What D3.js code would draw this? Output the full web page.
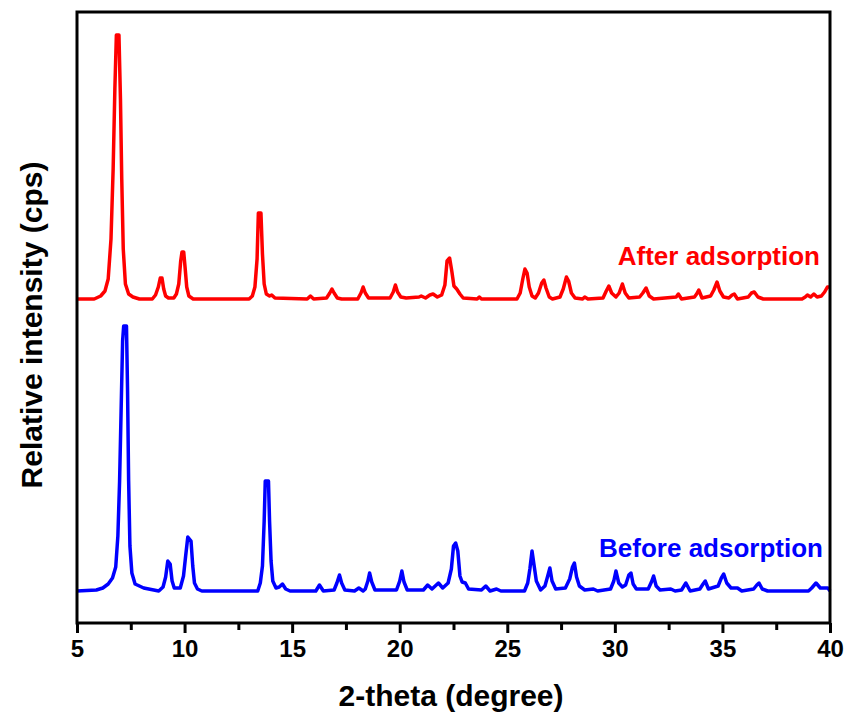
<!DOCTYPE html>
<html>
<head>
<meta charset="utf-8">
<script src="https://cdn.jsdelivr.net/npm/d3@7"></script>
<style>
  body { margin: 0; background: #fff; }
  svg { display: block; font-family: "Liberation Sans", Arial, sans-serif; }
</style>
</head>
<body>
<div id="xrd-chart"></div>
<script>
// XRD patterns: [2-theta (degree), intensity above the pattern's baseline]
const afterPattern = [
  [5.0,0],[5.8,0],[6.1,3],[6.3,8],[6.45,20],[6.58,60],[6.68,130],[6.76,210],[6.83,264],[6.95,264],[7.02,200],[7.08,120],[7.15,50],[7.25,15],[7.4,5],[7.6,2],[7.9,0],
  [8.5,0],[8.65,4],[8.78,12],[8.87,21],[8.95,21],[9.03,10],[9.12,3],[9.25,1],[9.5,1],[9.62,5],[9.73,15],[9.82,38],[9.88,47],[9.96,47],[10.03,30],[10.1,12],[10.2,3],[10.4,0],
  [13.0,0],[13.15,3],[13.27,12],[13.37,40],[13.43,86],[13.55,86],[13.62,45],[13.7,15],[13.8,5],[13.95,3],[14.05,4],[14.2,1],
  [15.7,0],[15.85,3],[16.0,0],[16.6,1],[16.75,6],[16.85,10],[16.95,6],[17.1,1],[17.3,0],[18.05,0],[18.2,6],[18.3,12],[18.4,6],[18.55,1],
  [19.55,1],[19.7,7],[19.8,14],[19.9,7],[20.05,2],[20.3,1],[20.9,2],[21.0,3],[21.2,1],[21.4,4],[21.55,5],[21.75,2],[21.95,4],
  [22.1,14],[22.2,38],[22.32,41],[22.42,28],[22.52,13],[22.65,10],[22.8,5],[22.95,1],[23.6,0],[23.7,2],[23.8,0],
  [25.45,0],[25.6,6],[25.72,20],[25.82,30],[25.92,26],[26.02,12],[26.15,3],[26.3,1],[26.45,6],[26.6,16],[26.7,19],[26.8,11],[26.95,2],[27.1,0],
  [27.45,2],[27.6,10],[27.75,22],[27.85,18],[27.98,6],[28.15,1],[28.5,0],[28.6,2],[28.75,0],
  [29.45,1],[29.6,8],[29.72,13],[29.85,6],[30.05,2],[30.2,6],[30.35,15],[30.48,6],[30.65,1],[31.15,2],[31.3,6],[31.45,11],[31.6,3],[31.8,0],
  [32.85,2],[32.95,5],[33.1,0],[33.7,2],[33.8,5],[33.9,9],[34.05,1],[34.45,3],[34.6,9],[34.75,17],[34.88,8],[35.05,2],[35.3,1],[35.45,4],[35.55,5],[35.7,0],
  [36.2,2],[36.35,6],[36.48,7],[36.65,2],[36.9,0],[38.7,0],[38.85,2],[38.95,4],[39.1,2],[39.25,5],[39.4,2],[39.6,3],[39.75,7],[39.88,12],[40.0,12]
];

const beforePattern = [
  [5.0,0],[5.9,1],[6.2,3],[6.45,7],[6.65,13],[6.8,24],[6.9,55],[6.98,110],[7.05,180],[7.12,250],[7.17,265],[7.3,265],[7.35,200],[7.4,110],[7.46,45],[7.55,18],[7.7,7],[8.1,3],
  [8.8,0],[9.0,4],[9.12,14],[9.22,30],[9.33,27],[9.42,10],[9.52,3],[9.8,3],[9.95,15],[10.05,35],[10.15,54],[10.3,50],[10.38,25],[10.46,8],[10.6,2],[10.8,0],
  [13.4,0],[13.52,8],[13.62,25],[13.7,70],[13.75,110],[13.9,110],[13.95,70],[14.02,30],[14.1,10],[14.25,3],[14.4,4],[14.55,7],[14.7,2],[14.9,0],
  [16.1,0],[16.27,6],[16.45,0],[16.95,1],[17.08,8],[17.2,16],[17.3,8],[17.45,1],[17.9,0],[18.1,3],[18.3,0],[18.4,2],[18.52,10],[18.6,18],[18.7,9],[18.85,1],
  [19.85,1],[20.0,10],[20.1,20],[20.2,9],[20.35,1],[21.1,1],[21.3,6],[21.5,2],[21.8,8],[22.0,3],
  [22.25,8],[22.4,22],[22.5,45],[22.6,48],[22.7,40],[22.8,15],[22.9,9],[23.05,8],[23.2,2],[23.8,1],[24.0,5],[24.2,0],[24.5,2],[24.7,0],
  [25.8,0],[25.95,8],[26.05,22],[26.15,40],[26.25,25],[26.35,10],[26.55,1],[26.75,5],[26.88,15],[26.98,23],[27.08,10],[27.25,2],
  [27.7,3],[27.9,12],[28.03,24],[28.12,28],[28.22,14],[28.35,5],[28.6,1],[29.0,2],[29.2,0],
  [29.8,2],[29.95,10],[30.05,20],[30.18,8],[30.35,4],[30.5,6],[30.65,16],[30.75,18],[30.85,7],[31.0,2],[31.55,2],[31.7,9],[31.8,15],[31.92,5],[32.1,1],
  [32.6,2],[32.8,0],[33.1,1],[33.3,8],[33.5,0],[33.95,2],[34.1,7],[34.2,10],[34.35,2],[34.8,5],[34.95,13],[35.06,17],[35.2,8],[35.4,3],[35.7,3],[35.9,0],
  [36.45,2],[36.6,6],[36.7,8],[36.85,2],[37.1,0],[39.0,0],[39.15,3],[39.35,8],[39.55,3],[39.9,3],[40.0,0]
];

// vertical offsets of the two stacked patterns
const afterOffset = 324;
const beforeOffset = 32;

const xMajorTicks = [5, 10, 15, 20, 25, 30, 35, 40];
const xMinorTicks = [7.5, 12.5, 17.5, 22.5, 27.5, 32.5, 37.5];

const seriesLabels = ["After adsorption", "Before adsorption"];

document.addEventListener('DOMContentLoaded', () => {
    const W = 850, H = 719;
    const plot = { left: 77, right: 830, top: 12, bottom: 623 };

    const svg = d3.select("#xrd-chart")
        .append("svg")
        .attr("width", W)
        .attr("height", H);

    const x = d3.scaleLinear().domain([5, 40]).range([plot.left, plot.right]);
    const y = d3.scaleLinear().domain([0, 611]).range([plot.bottom, plot.top]);

    const series = [
        { name: seriesLabels[0], color: "#ff0000", offset: afterOffset, values: afterPattern },
        { name: seriesLabels[1], color: "#0000ff", offset: beforeOffset, values: beforePattern }
    ];

    // line generator, each pattern shifted up by its offset
    const line = offset => d3.line()
        .x(d => x(d[0]))
        .y(d => y(d[1] + offset));

    svg.selectAll(".pattern")
        .data(series)
        .enter()
        .append("path")
        .attr("class", "pattern")
        .attr("fill", "none")
        .attr("stroke", d => d.color)
        .attr("stroke-width", 3.5)
        .attr("stroke-linejoin", "round")
        .attr("d", d => line(d.offset)(d.values));

    // pattern labels
    svg.append("text")
        .attr("x", 820).attr("y", 265)
        .attr("text-anchor", "end")
        .attr("fill", "#ff0000")
        .style("font-size", "26px").style("font-weight", "bold")
        .text(seriesLabels[0]);
    svg.append("text")
        .attr("x", 823).attr("y", 557)
        .attr("text-anchor", "end")
        .attr("fill", "#0000ff")
        .style("font-size", "26px").style("font-weight", "bold")
        .text(seriesLabels[1]);

    // frame
    svg.append("rect")
        .attr("x", plot.left).attr("y", plot.top)
        .attr("width", plot.right - plot.left)
        .attr("height", plot.bottom - plot.top)
        .attr("fill", "none")
        .attr("stroke", "#000")
        .attr("stroke-width", 3);

    // bottom axis, ticks pointing out
    const xAxis = svg.append("g")
        .attr("transform", `translate(0,${plot.bottom})`)
        .call(d3.axisBottom(x).tickValues(xMajorTicks).tickSize(10).tickPadding(7).tickFormat(d3.format("d")));
    xAxis.select(".domain").remove();
    xAxis.selectAll("line").attr("stroke", "#000").attr("stroke-width", 3);
    xAxis.selectAll("text")
        .style("font-size", "24px").style("font-weight", "bold")
        .attr("fill", "#000");

    const xMinor = svg.append("g")
        .attr("transform", `translate(0,${plot.bottom})`)
        .call(d3.axisBottom(x).tickValues(xMinorTicks).tickSize(7).tickFormat(""));
    xMinor.select(".domain").remove();
    xMinor.selectAll("line").attr("stroke", "#000").attr("stroke-width", 3);

    // axis titles
    svg.append("text")
        .attr("x", 451)
        .attr("y", 706)
        .attr("text-anchor", "middle")
        .style("font-size", "30px").style("font-weight", "bold")
        .text("2-theta (degree)");

    svg.append("text")
        .attr("transform", "rotate(-90)")
        .attr("x", -325)
        .attr("y", 42)
        .attr("text-anchor", "middle")
        .style("font-size", "30px").style("font-weight", "bold")
        .text("Relative intensity (cps)");
});
</script>
</body>
</html>
